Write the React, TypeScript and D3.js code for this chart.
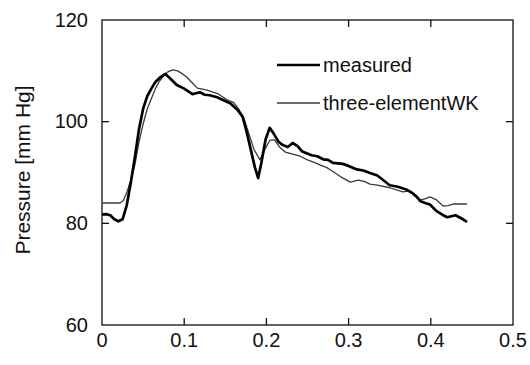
import React from 'react'
import * as d3 from 'd3'

// measured aortic pressure
const tMeasured = [0, 0.005, 0.01, 0.015, 0.02, 0.025, 0.03, 0.035, 0.04, 0.045, 0.05, 0.055, 0.06, 0.065, 0.07, 0.077, 0.083, 0.091, 0.1, 0.11, 0.119, 0.125, 0.131, 0.14, 0.148, 0.156, 0.165, 0.171, 0.176, 0.181, 0.186, 0.19, 0.194, 0.199, 0.204, 0.209, 0.215, 0.22, 0.226, 0.232, 0.238, 0.243, 0.249, 0.255, 0.262, 0.269, 0.275, 0.281, 0.287, 0.293, 0.3, 0.31, 0.318, 0.326, 0.335, 0.35, 0.36, 0.371, 0.377, 0.383, 0.387, 0.393, 0.399, 0.407, 0.415, 0.42, 0.43, 0.437, 0.444]
const pMeasured = [81.7, 81.8, 81.6, 80.8, 80.4, 80.8, 83.5, 88, 93, 98.5, 102.5, 105, 106.5, 107.8, 108.6, 109.4, 108.5, 107.2, 106.5, 105.4, 105.8, 105.3, 105.2, 104.8, 104.2, 103.6, 102.3, 101, 98, 94.5, 91, 88.9, 92, 96.5, 98.8, 97.6, 96, 95.4, 95, 95.8, 95.2, 94.2, 93.8, 93.4, 93.2, 92.6, 92.5, 91.9, 91.8, 91.7, 91.3, 90.6, 90.4, 89.9, 89.4, 87.5, 87.2, 86.6, 86, 85.2, 84.4, 84, 83.7, 82.4, 81.6, 81.2, 81.6, 81, 80.3]

// three-element windkessel model
const tWK = [0, 0.022, 0.026, 0.03, 0.035, 0.04, 0.045, 0.05, 0.055, 0.06, 0.065, 0.07, 0.075, 0.08, 0.086, 0.092, 0.097, 0.103, 0.11, 0.116, 0.122, 0.128, 0.135, 0.142, 0.152, 0.16, 0.167, 0.173, 0.179, 0.185, 0.192, 0.198, 0.204, 0.21, 0.216, 0.223, 0.232, 0.241, 0.25, 0.258, 0.265, 0.273, 0.281, 0.29, 0.302, 0.312, 0.32, 0.326, 0.335, 0.35, 0.366, 0.375, 0.381, 0.387, 0.393, 0.399, 0.407, 0.415, 0.421, 0.427, 0.435, 0.444]
const pWK = [84, 84, 84.5, 86, 88.5, 91.5, 96, 99.5, 102.5, 104.5, 106.5, 108, 109, 109.8, 110.2, 110, 109.5, 108.8, 107.6, 106.6, 106.4, 106.2, 105.8, 105.4, 104.3, 103.8, 102.3, 100.5, 97.5, 94.5, 92.5, 94.5, 96.3, 96.4, 95, 94, 93.6, 93.2, 92.5, 92, 91.5, 91, 90.2, 89.2, 88.1, 88.5, 88.2, 87.7, 87.5, 87, 86.2, 86.4, 85.6, 84.6, 84.8, 85.2, 84.6, 83.4, 83.5, 83.8, 83.8, 83.8]

const xTicks = [0, 0.1, 0.2, 0.3, 0.4, 0.5]
const yTicks = [60, 80, 100, 120]

const W = 530, H = 365
const margin = { top: 20, right: 17, bottom: 40, left: 102 }
const font = "'Liberation Sans', Arial, Helvetica, sans-serif"

export default function App() {
  const x = d3.scaleLinear().domain([0, 0.5]).range([margin.left, W - margin.right])
  const y = d3.scaleLinear().domain([60, 120]).range([H - margin.bottom, margin.top])

  const line = d3.line<[number, number]>()
    .x(d => x(d[0]))
    .y(d => y(d[1]))

  const measured = line(tMeasured.map((t, i) => [t, pMeasured[i]] as [number, number]))
  const wk = line(tWK.map((t, i) => [t, pWK[i]] as [number, number]))

  const x0 = x(0), x1 = x(0.5), y0 = y(60), y1 = y(120)
  const tick = 7

  return (
    <svg width={W} height={H} style={{ position: 'absolute', left: 0, top: 0, background: '#fff' }}
      fontFamily={font}>
      {/* frame */}
      <rect x={x0} y={y1} width={x1 - x0} height={y0 - y1} fill="none" stroke="#111" strokeWidth={1.3} />

      {/* inward ticks, mirrored on top and right */}
      {xTicks.slice(1, -1).map(t => (
        <g key={'xt' + t} stroke="#111" strokeWidth={1.3}>
          <line x1={x(t)} x2={x(t)} y1={y0} y2={y0 - tick} />
          <line x1={x(t)} x2={x(t)} y1={y1} y2={y1 + tick} />
        </g>
      ))}
      {yTicks.slice(1, -1).map(t => (
        <g key={'yt' + t} stroke="#111" strokeWidth={1.3}>
          <line x1={x0} x2={x0 + tick} y1={y(t)} y2={y(t)} />
          <line x1={x1} x2={x1 - tick} y1={y(t)} y2={y(t)} />
        </g>
      ))}

      {/* tick labels */}
      {xTicks.map(t => (
        <text key={'xl' + t} x={x(t)} y={y0 + 22} fontSize={20} textAnchor="middle" fill="#111">
          {t === 0 ? '0' : d3.format('.1f')(t)}
        </text>
      ))}
      {yTicks.map(t => (
        <text key={'yl' + t} x={x0 - 14} y={y(t) + 6.5} fontSize={20} textAnchor="end" fill="#111">
          {t}
        </text>
      ))}

      <text transform={`translate(30,170) rotate(-90)`} fontSize={21} textAnchor="middle" fill="#111">
        Pressure [mm Hg]
      </text>

      {/* series */}
      <path d={wk ?? ''} fill="none" stroke="#3a3a3a" strokeWidth={1.3} strokeLinejoin="round" />
      <path d={measured ?? ''} fill="none" stroke="#000" strokeWidth={2.7} strokeLinejoin="round" />

      {/* legend */}
      <line x1={277} x2={320} y1={65} y2={65} stroke="#000" strokeWidth={2.7} />
      <text x={323} y={72} fontSize={20} fill="#111">measured</text>
      <line x1={277} x2={320} y1={103} y2={103} stroke="#3a3a3a" strokeWidth={1.3} />
      <text x={323} y={110} fontSize={20} fill="#111" wordSpacing={-5.5}>three-element WK</text>
    </svg>
  )
}
